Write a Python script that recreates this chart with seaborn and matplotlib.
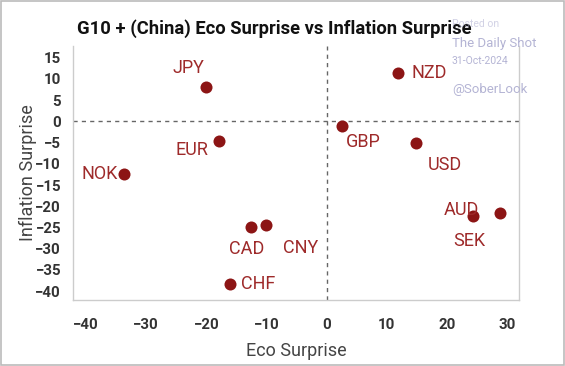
import pandas as pd
import matplotlib.pyplot as plt
import seaborn as sns

# values
currencies = ['JPY', 'NZD', 'EUR', 'GBP', 'USD', 'NOK', 'CAD', 'CNY', 'CHF', 'AUD', 'SEK']
eco_surprise = [-20.1, 11.8, -17.9, 2.6, 14.9, -33.7, -12.6, -10.1, -16.0, 28.8, 24.3]
infl_surprise = [8.0, 11.3, -4.7, -1.2, -5.2, -12.3, -24.9, -24.5, -38.4, -21.7, -22.4]

df = pd.DataFrame({'Currency': currencies, 'Eco': eco_surprise, 'Infl': infl_surprise})

# label offsets in pixels (dx, dy)
offsets = {
    'JPY': (-17, 19), 'NZD': (32, 0), 'EUR': (-27, -9), 'GBP': (21, -16),
    'USD': (29, -22), 'NOK': (-24, 0), 'CAD': (-4, -22), 'CNY': (35, -23),
    'CHF': (28, 0), 'AUD': (-39, 3), 'SEK': (-4, -25),
}

sns.set_theme(style="white")
plt.rcParams['font.family'] = ['Roboto', 'DejaVu Sans']

point_color = '#8c1515'
label_color = '#9e2a2a'

fig = plt.figure(figsize=(5.65, 3.66), dpi=100)
ax = fig.add_axes([0.129, 0.180, 0.790, 0.694])

sns.scatterplot(data=df, x='Eco', y='Infl', color=point_color, s=75,
                edgecolor=point_color, linewidth=0, ax=ax, zorder=3)

for _, row in df.iterrows():
    dx, dy = offsets[row['Currency']]
    ax.annotate(row['Currency'], (row['Eco'], row['Infl']), xytext=(dx, dy),
                textcoords='offset pixels', ha='center', va='center',
                color=label_color, fontsize=13)

ax.axhline(0, color='#666666', linestyle=(0, (3, 3)), linewidth=1, zorder=1)
ax.axvline(0, color='#666666', linestyle=(0, (3, 3)), linewidth=1, zorder=1)

ax.set_xlim(-42.2, 32.0)
ax.set_ylim(-42.1, 17.7)
ax.set_xticks(range(-40, 31, 10))
ax.set_yticks(range(-40, 16, 5))

for side in ['left', 'bottom', 'right']:
    ax.spines[side].set_color('#cccccc')
    ax.spines[side].set_linewidth(1)
ax.spines['top'].set_visible(False)

ax.tick_params(axis='both', which='both', direction='out', length=5, width=1,
               color='#dddddd', labelcolor='#333333', labelsize=10.8)
ax.tick_params(axis='x', pad=8)
for lbl in ax.get_xticklabels() + ax.get_yticklabels():
    lbl.set_fontweight('bold')

ax.set_xlabel('Eco Surprise', fontsize=13, color='#444444', labelpad=7)
ax.set_ylabel('Inflation Surprise', fontsize=13, color='#444444', labelpad=-1)

fig.text(274 / 565, 1 - 29 / 366, 'G10 + (China) Eco Surprise vs Inflation Surprise',
         ha='center', va='center', fontsize=13.2, fontweight='bold', color='#111111')

# watermark
wm = '#b4b4d4'
fig.text(452 / 565, 1 - 24 / 366, 'Posted on', fontsize=7.5, color=wm, alpha=0.6, va='center')
fig.text(452 / 565, 1 - 43 / 366, 'The Daily Shot', fontsize=9.5, color=wm, va='center')
fig.text(452 / 565, 1 - 61 / 366, '31-Oct-2024', fontsize=7.5, color=wm, va='center')
fig.text(452 / 565, 1 - 90 / 366, '@SoberLook', fontsize=9.5, color=wm, va='center')

# figure border
fig.patches.append(plt.Rectangle((0.002, 0.003), 0.996, 0.994, transform=fig.transFigure,
                                 fill=False, edgecolor='#bbbbbb', linewidth=1.2))

plt.savefig('out.png', dpi=100)
